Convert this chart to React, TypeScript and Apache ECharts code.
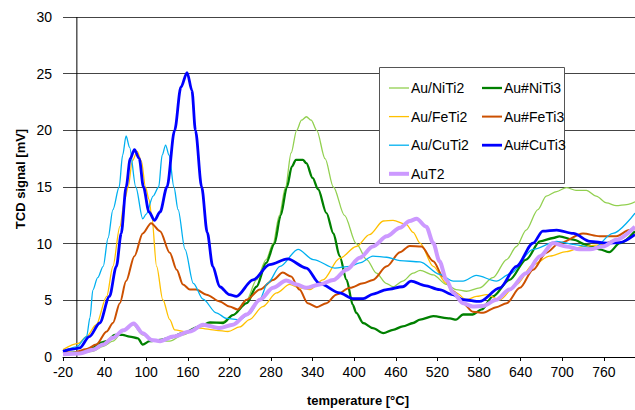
import React, { useEffect, useRef } from "react";
import * as echarts from "echarts";

// ---- data (temperature °C, TCD signal mV) ----
const xTickValues = [-20, 40, 100, 160, 220, 280, 340, 400, 460, 520, 580, 640, 700, 760];
const yAxisCross = [[0, 0], [0, 30]]; // value axis crosses temperature axis at 0 °C

const niTi2T = [-20, 4, 23, 38, 52, 66, 81, 95, 110, 134, 153, 177, 196, 210, 225, 245, 259, 273, 283, 292, 301, 309, 317, 324, 331, 338, 346, 358, 370, 386, 403, 418, 432, 446, 456, 470, 485, 495, 514, 533, 547, 562, 581, 600, 620, 634, 648, 665, 677, 692, 706, 720, 735, 749, 764, 778, 793, 805];
const niTi2V = [0.2, 0.3, 0.5, 0.95, 1.4, 2.25, 2.85, 1.95, 1.5, 1.4, 1.95, 2.7, 3.0, 3.1, 3.7, 5.05, 6.8, 8.6, 10, 12.5, 15, 18, 20, 20.9, 21.2, 20.9, 20, 17.5, 15, 12.5, 10, 8.6, 7.4, 6.5, 6.2, 6.7, 7.4, 7.65, 7.25, 6.4, 5.95, 5.8, 6.1, 7.0, 8.6, 9.75, 11.2, 13.0, 14.2, 14.6, 14.95, 14.7, 14.7, 14.2, 13.6, 13.35, 13.45, 13.7];

const niTi3T = [-20, 4, 23, 33, 43, 55, 66, 76, 88, 95, 105, 120, 134, 153, 177, 192, 211, 225, 245, 259, 273, 285, 294, 303, 310, 316, 326, 331, 340, 348, 360, 370, 379, 389, 398, 403, 413, 427, 442, 456, 470, 485, 495, 514, 538, 547, 557, 571, 584, 600, 624, 648, 668, 687, 696, 716, 735, 754, 768, 783, 805];
const niTi3V = [0.3, 0.4, 0.8, 1.25, 1.4, 1.95, 1.95, 1.8, 1.65, 1.1, 1.4, 1.5, 1.7, 2.1, 2.7, 3.05, 3.0, 3.7, 4.75, 6.2, 8.3, 10, 12.5, 15, 16.8, 17.4, 17.4, 17.1, 15.8, 14.8, 12.7, 10.9, 8.9, 6.8, 4.6, 3.9, 3.0, 2.55, 2.1, 2.4, 2.7, 3.0, 3.3, 3.6, 3.4, 3.3, 3.75, 3.75, 4.2, 5.35, 6.8, 8.6, 10.2, 10.5, 10.65, 10.35, 9.9, 9.5, 9.25, 10.05, 11.1];

const feTi2T = [-20, 2, 14, 28, 43, 52, 62, 69, 74, 80, 87, 93, 99, 104, 108, 115, 124, 134, 141, 158, 177, 201, 218, 235, 249, 268, 288, 307, 321, 336, 355, 379, 403, 422, 442, 456, 475, 485, 495, 514, 533, 547, 562, 576, 591, 610, 634, 658, 682, 706, 730, 754, 778, 805];
const feTi2V = [0.65, 1.2, 1.8, 2.85, 5.35, 8.0, 11.5, 13.9, 15, 17.3, 18.15, 17.3, 15, 13.9, 12.4, 8.0, 5.05, 3.3, 2.4, 2.2, 2.55, 2.35, 2.25, 2.65, 3.3, 4.45, 5.65, 6.4, 6.1, 5.95, 6.8, 8.7, 9.75, 10.8, 12.0, 12.05, 11.7, 11.0, 10.05, 8.0, 6.5, 5.65, 5.05, 5.35, 5.5, 5.05, 6.4, 8.15, 8.9, 9.3, 9.75, 9.9, 10.35, 11.4];

const feTi3T = [-20, -6, 14, 28, 43, 52, 62, 71, 83, 95, 107, 120, 134, 144, 153, 163, 172, 187, 206, 220, 232, 245, 264, 283, 297, 309, 321, 333, 346, 360, 374, 394, 413, 427, 447, 466, 480, 497, 514, 528, 543, 557, 571, 586, 605, 620, 639, 658, 677, 696, 730, 754, 778, 797, 805];
const feTi3V = [0.5, 0.35, 0.7, 1.1, 2.25, 3.0, 4.75, 6.7, 8.9, 10.9, 11.8, 11.1, 9.2, 7.7, 6.4, 5.95, 5.95, 5.5, 4.9, 4.45, 4.2, 5.05, 5.95, 6.8, 7.45, 7.1, 5.95, 4.75, 4.4, 4.75, 5.5, 6.1, 6.5, 6.8, 8.0, 9.25, 9.8, 9.75, 8.45, 7.1, 5.8, 4.75, 4.0, 3.9, 4.4, 4.75, 6.1, 7.7, 9.2, 10.05, 10.9, 10.65, 10.65, 11.2, 11.4];

const cuTi2T = [-20, 0, 14, 19, 23, 30, 38, 45, 52, 61, 66, 71, 76, 85, 95, 100, 110, 118, 123, 128, 133, 140, 146, 156, 168, 182, 201, 216, 235, 249, 264, 275, 293, 319, 341, 372, 394, 408, 427, 447, 466, 495, 523, 543, 557, 576, 605, 624, 658, 692, 721, 745, 773, 805];
const cuTi2V = [0.5, 0.9, 1.8, 3.5, 5.9, 7.0, 8.0, 10.5, 13.0, 15, 17.8, 19.5, 18.5, 15, 12.2, 12.6, 14.2, 15, 17.8, 18.7, 17.8, 15, 13.0, 9.5, 6.5, 5.1, 3.9, 3.4, 3.3, 3.8, 5.1, 6.5, 8.0, 9.5, 8.6, 7.85, 8.0, 8.3, 8.9, 8.8, 8.5, 8.4, 7.3, 6.7, 6.7, 7.2, 6.7, 7.3, 9.5, 10.2, 9.9, 9.6, 10.9, 12.7];

const cuTi3T = [-20, -6, 4, 18, 33, 47, 57, 64, 71, 77, 83, 90, 96, 104, 112, 120, 130, 141, 150, 159, 166, 171, 180, 188, 196, 206, 220, 230, 254, 278, 304, 331, 350, 379, 398, 413, 427, 447, 470, 482, 502, 523, 542, 557, 581, 610, 634, 658, 672, 692, 716, 740, 764, 783, 805];
const cuTi3V = [0.5, 0.7, 0.8, 1.8, 3.0, 5.35, 8.0, 10.9, 15, 17.5, 18.3, 17.5, 15, 12.8, 12.05, 12.8, 15, 20, 23.8, 25.1, 23.5, 20, 15, 11, 8.0, 6.2, 5.5, 5.35, 6.8, 8.15, 8.65, 7.85, 6.5, 5.65, 5.15, 5.15, 5.55, 5.95, 6.2, 6.7, 6.3, 5.95, 5.5, 5.05, 4.9, 6.1, 8.0, 10.05, 11.1, 11.2, 10.9, 10.2, 10.05, 10.1, 10.8];

const auT2T = [-20, 4, 23, 38, 52, 67, 82, 95, 108, 120, 139, 163, 182, 206, 225, 245, 264, 283, 302, 317, 331, 350, 370, 389, 408, 427, 447, 466, 480, 490, 504, 514, 523, 533, 543, 557, 571, 586, 605, 624, 648, 668, 687, 706, 725, 740, 759, 778, 805];
const auT2V = [0.25, 0.3, 0.65, 1.1, 1.7, 2.35, 2.95, 2.1, 1.5, 1.4, 1.8, 2.25, 2.85, 2.55, 2.85, 3.75, 5.05, 6.1, 6.75, 6.4, 6.1, 6.4, 6.8, 7.7, 8.75, 9.75, 10.65, 11.4, 12.0, 12.2, 11.5, 10.05, 8.45, 6.8, 5.65, 4.75, 4.45, 4.5, 5.05, 5.95, 7.4, 8.9, 10.05, 9.75, 9.5, 9.5, 9.75, 10.35, 11.5];

const FONT = "'Liberation Sans', Arial, Helvetica, sans-serif";

const zip = (t: number[], v: number[]) => t.map((x, i) => [x, v[i]]);

// legend line icon of given thickness (20 px long)
const lineIcon = (w: number) => `path://M0,0H20V${w}H0Z`;

export default function App() {
  const ref = useRef<HTMLDivElement>(null);
  useEffect(() => {
    if (!ref.current) return;
    const chart = echarts.init(ref.current, undefined, { renderer: "svg" });

    const mk = (name: string, t: number[], v: number[], color: string, width: number) => ({
      name,
      type: "line",
      data: zip(t, v),
      showSymbol: false,
      symbol: "none",
      smooth: 0.3,
      smoothMonotone: "x",
      lineStyle: { color, width },
      itemStyle: { color },
      emphasis: { disabled: true },
      z: 2,
    });

    const legendBase = {
      orient: "vertical",
      top: 76,
      itemWidth: 20,
      itemHeight: 14,
      itemGap: 14.6,
      symbolKeepAspect: true,
      textStyle: { color: "#000", fontSize: 14, fontFamily: FONT, padding: [0, 0, 0, -3] },
      selectedMode: false,
      z: 5,
    };

    const titleStyle = (text: string) => ({
      text,
      font: `bold 13px ${FONT}`,
      fill: "#000",
      align: "center",
      verticalAlign: "middle",
      textAlign: "center",
      textVerticalAlign: "middle",
    });

    const option: any = {
      animation: false,
      backgroundColor: "#fff",
      grid: { left: 63, top: 17, right: 0, bottom: 53 },
      xAxis: {
        type: "value",
        min: -20,
        max: 805,
        interval: 60,
        axisLine: { show: true, onZero: false, lineStyle: { color: "#000", width: 1 } },
        axisTick: { show: true, length: 4, customValues: xTickValues, lineStyle: { color: "#000" } },
        axisLabel: { customValues: xTickValues, color: "#000", fontSize: 14, fontFamily: FONT, margin: 8 },
        splitLine: { show: false },
      },
      yAxis: {
        type: "value",
        min: 0,
        max: 30,
        interval: 5,
        axisLine: { show: false },
        axisTick: { show: false },
        axisLabel: { color: "#000", fontSize: 14, fontFamily: FONT, margin: 11 },
        splitLine: { show: true, lineStyle: { color: "#444", width: 1 } },
      },
      legend: [
        {
          ...legendBase,
          left: 384,
          data: [
            { name: "Au/NiTi2", icon: lineIcon(1.3) },
            { name: "Au/FeTi2", icon: lineIcon(1.3) },
            { name: "Au/CuTi2", icon: lineIcon(1.3) },
            { name: "AuT2", icon: lineIcon(4) },
          ],
        },
        {
          ...legendBase,
          left: 477,
          data: [
            { name: "Au#NiTi3", icon: lineIcon(2.3) },
            { name: "Au#FeTi3", icon: lineIcon(2) },
            { name: "Au#CuTi3", icon: lineIcon(2.8) },
          ],
        },
      ],
      graphic: [
        {
          id: "legendBox",
          type: "rect",
          z: 3,
          shape: { x: 379.5, y: 67.5, width: 185, height: 116 },
          style: { fill: "#fff", stroke: "#555", lineWidth: 1 },
        },
        { id: "xTitle", type: "text", x: 358, y: 400, style: titleStyle("temperature [°C]") },
        { id: "yTitle", type: "text", x: 20, y: 179, rotation: Math.PI / 2, style: titleStyle("TCD signal [mV]") },
      ],
      series: [
        {
          name: "axisAtZero",
          type: "line",
          data: yAxisCross,
          showSymbol: false,
          symbol: "none",
          silent: true,
          lineStyle: { color: "#000", width: 1 },
          emphasis: { disabled: true },
          z: 1,
        },
        mk("Au/NiTi2", niTi2T, niTi2V, "#92D050", 1.3),
        mk("Au#NiTi3", niTi3T, niTi3V, "#008000", 2.3),
        mk("Au/FeTi2", feTi2T, feTi2V, "#FFC000", 1.3),
        mk("Au#FeTi3", feTi3T, feTi3V, "#CC5000", 2.0),
        mk("Au/CuTi2", cuTi2T, cuTi2V, "#00B0F0", 1.3),
        mk("Au#CuTi3", cuTi3T, cuTi3V, "#0000FF", 2.8),
        mk("AuT2", auT2T, auT2V, "#CC99FF", 4),
      ],
    };
    chart.setOption(option);

    return () => chart.dispose();
  }, []);
  return (
    <div
      ref={ref}
      style={{ position: "absolute", left: 0, top: 0, width: 635, height: 410 }}
    />
  );
}
